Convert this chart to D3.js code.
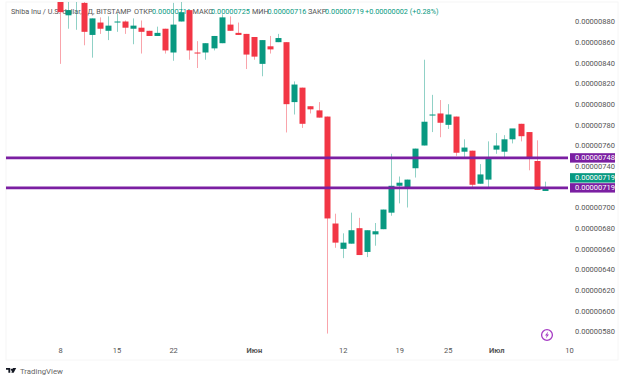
<!DOCTYPE html>
<html>
<head>
<meta charset="utf-8">
<script src="https://cdn.jsdelivr.net/npm/d3@7"></script>
<style>
  html, body { margin: 0; background: #fff; }
  svg { display: block; font-family: Roboto, sans-serif; }
  .axis .domain, .axis line { display: none; }
  .axis text { fill: #555; font-size: 7.5px; font-family: Roboto, sans-serif; }
</style>
</head>
<body>
<div id="chart"></div>
<script>
// daily candles from May 8, prices in units of 0.00000001
const startDate = Date.UTC(2023, 4, 8);
const opens = [905, 886, 905, 898, 867, 879, 871, 879, 880, 873, 874, 871, 866, 873, 850, 880, 891, 850, 850, 854, 859, 877, 869, 868, 865, 839, 856, 860, 860, 802, 816, 798, 794, 788, 684.5, 660, 665, 680, 657, 674, 679, 695, 721, 718, 738, 760, 789, 791, 780, 788, 754, 755, 723, 727, 756, 754, 766, 781, 773, 745, 716];
const highs = [915, 903, 925, 905, 883, 884, 885, 888, 881, 883, 881, 871, 875, 873, 898, 903, 891, 861, 859, 866, 887, 885, 879, 868, 865, 862, 866, 868, 860, 822, 816, 798, 802, 788, 694, 675, 695, 690, 678, 685, 698, 752, 730, 727, 757, 843, 809, 804, 800, 788, 766, 755, 742, 764, 772, 770, 776, 781, 773, 765, 725];
const lows = [839, 873, 872, 857, 845, 868, 862, 870, 868, 858, 849, 866, 866, 849, 842, 880, 843, 835, 843, 852, 859, 871, 867, 834, 843, 827, 849, 860, 772.6, 790, 777, 791, 787, 578, 661, 651, 665, 654, 652, 663, 679, 692, 704, 700, 729, 760, 773, 768, 776, 750, 749, 719, 723, 719, 752, 748, 762, 764, 736, 717, 716];
const closes = [889, 891, 920, 870, 883, 873, 876, 880, 874, 876, 870, 866, 869, 852, 877, 889, 852, 849, 859, 866, 884, 871, 867, 848, 846, 862, 853, 864, 800, 819, 781, 795, 787, 689.4, 666, 666, 678, 654, 678, 677, 698, 721, 724, 727, 757, 783, 790, 782, 790, 753, 758, 722, 732, 747, 760, 766, 776.5, 769, 747, 717, 719];

const priceTicks = d3.range(580, 881, 20);
const tickDates = [Date.UTC(2023, 4, 8), Date.UTC(2023, 4, 15), Date.UTC(2023, 4, 22), Date.UTC(2023, 5, 1), Date.UTC(2023, 5, 12), Date.UTC(2023, 5, 19), Date.UTC(2023, 5, 25), Date.UTC(2023, 6, 1), Date.UTC(2023, 6, 10)];
const tickLabels = ["8", "15", "22", "Июн", "12", "19", "25", "Июл", "10"];
const monthLabels = ["Июн", "Июл"];
const levels = [748, 719];
const lastClose = 719;

const legendParts = [
  ["Shiba Inu / U.S. dollar, 1Д, BITSTAMP", 11, "#555"],
  ["ОТКР", 134, "#555"],
  ["0.00000716", 152, "#089981"],
  ["МАКС", 192.5, "#555"],
  ["0.00000725", 211, "#089981"],
  ["МИН", 252, "#555"],
  ["0.00000716", 267.5, "#089981"],
  ["ЗАКР", 308, "#555"],
  ["0.00000719", 325, "#089981"],
  ["+0.00000002 (+0.28%)", 365, "#089981"],
];

const width = 624;
const height = 381;
const plot = { left: 6, right: 568, top: 2, bottom: 344 };
const red = "#f23645";
const green = "#089981";
const purple = "#7b1fa2";
const bodyWidth = 6;
const dayMs = 864e5;

const candles = opens.map((open, i) => ({
  date: startDate + i * dayMs,
  open,
  high: highs[i],
  low: lows[i],
  close: closes[i],
}));

const x = d3.scaleUtc().domain([tickDates[0], tickDates[8]]).range([60, 569]);
const y = d3.scaleLinear().domain([580, 880]).range([331.5, 21.5]);
const formatPrice = (d) => (d * 1e-8).toFixed(8);
const colorOf = (d) => (d.close >= d.open ? green : red);

const svg = d3.select("#chart").append("svg").attr("width", width).attr("height", height);

svg.append("rect")
  .attr("x", plot.left)
  .attr("y", plot.top)
  .attr("width", width - plot.left - 6)
  .attr("height", 358)
  .attr("fill", "none")
  .attr("stroke", "#f6f6f6");

// the legend sits behind the candles in the screenshot
svg.selectAll(".legend").data(legendParts).join("text")
  .attr("class", "legend")
  .attr("x", (d) => d[1])
  .attr("y", 14)
  .attr("font-size", 7.3)
  .attr("fill", (d) => d[2])
  .text((d) => d[0]);

svg.append("clipPath").attr("id", "plot-clip").append("rect")
  .attr("x", plot.left)
  .attr("y", plot.top)
  .attr("width", plot.right - plot.left)
  .attr("height", plot.bottom - plot.top);

const gPlot = svg.append("g").attr("clip-path", "url(#plot-clip)");

const candle = gPlot.selectAll(".candle").data(candles).join("g").attr("class", "candle");

candle.append("line")
  .attr("x1", (d) => Math.round(x(d.date)) + 0.5)
  .attr("x2", (d) => Math.round(x(d.date)) + 0.5)
  .attr("y1", (d) => y(d.high))
  .attr("y2", (d) => y(d.low))
  .attr("stroke", colorOf)
  .attr("stroke-opacity", 0.45);

candle.append("rect")
  .attr("x", (d) => Math.round(x(d.date)) + 0.5 - bodyWidth / 2)
  .attr("width", bodyWidth)
  .attr("y", (d) => y(Math.max(d.open, d.close)))
  .attr("height", (d) => Math.max(1, Math.abs(y(d.open) - y(d.close))))
  .attr("fill", colorOf);

gPlot.selectAll(".level").data(levels).join("line")
  .attr("class", "level")
  .attr("x1", plot.left)
  .attr("x2", plot.right + 2)
  .attr("y1", (d) => y(d))
  .attr("y2", (d) => y(d))
  .attr("stroke", purple)
  .attr("stroke-width", 2.6);

svg.append("g")
  .attr("class", "axis")
  .attr("transform", "translate(575,0)")
  .call(d3.axisRight(y).tickValues(priceTicks).tickFormat(formatPrice).tickSize(0).tickPadding(0));

svg.append("g")
  .attr("class", "axis")
  .attr("transform", "translate(0,348)")
  .call(d3.axisBottom(x).tickValues(tickDates).tickFormat((d, i) => tickLabels[i]).tickSize(0).tickPadding(0))
  .call((g) => g.selectAll("text").attr("font-weight", function () {
    return monthLabels.includes(this.textContent) ? 700 : 400;
  }));

const labels = [
  { value: 748, at: y(748), fill: purple },
  { value: lastClose, at: y(lastClose) - 10, fill: green },
  { value: 719, at: y(719), fill: purple },
];

const label = svg.selectAll(".price-label").data(labels).join("g")
  .attr("class", "price-label")
  .attr("transform", (d) => `translate(570,${d.at})`);

label.append("rect")
  .attr("y", -4.7)
  .attr("width", 45)
  .attr("height", 9.4)
  .attr("fill", (d) => d.fill);

label.append("text")
  .attr("x", 5)
  .attr("dy", "0.34em")
  .attr("fill", "#fff")
  .attr("font-size", 7.5)
  .text((d) => formatPrice(d.value));

// lightning badge
const badge = svg.append("g").attr("transform", "translate(547,335)");
badge.append("circle").attr("r", 5.4).attr("fill", "#fff").attr("stroke", "#a63cc4").attr("stroke-width", 1.3);
badge.append("path").attr("d", "M1.2,-3.4L-2,0.6H-0.2L-1.2,3.4L2,-0.6H0.2Z").attr("fill", "#a63cc4");

// TradingView mark
const logo = svg.append("g").attr("transform", "translate(6,368) scale(0.85)");
logo.append("path").attr("d", "M0,0H5V5.5H2.8V2H0Z M6.7,1A1,1 0 1 1 6.69,1Z M8,0H12L9,5.5H6.4Z").attr("fill", "#131722");
svg.append("text").attr("x", 20).attr("y", 374).attr("font-size", 7.8).attr("fill", "#666").text("TradingView");
</script>
</body>
</html>
